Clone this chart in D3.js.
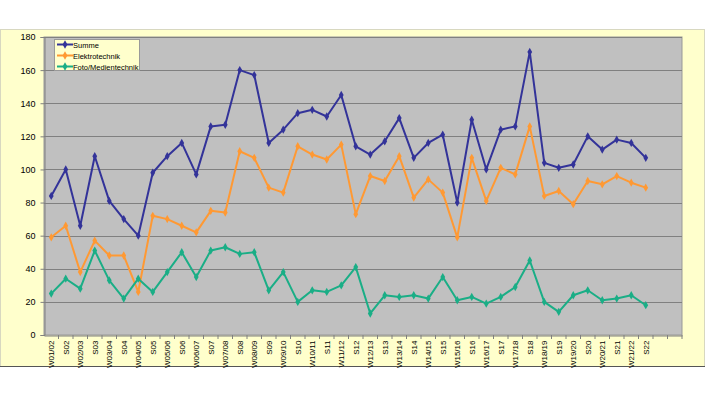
<!DOCTYPE html>
<html><head><meta charset="utf-8">
<script src="https://cdn.jsdelivr.net/npm/d3@7"></script>
<style>body{margin:0;background:#fff;}svg{display:block;font-family:"Liberation Sans",Arial,sans-serif;}</style>
</head><body><svg id="c" width="705" height="397"></svg>
<script>
const categories = ["W01/02","S02","W02/03","S03","W03/04","S04","W04/05","S05","W05/06","S06","W06/07","S07","W07/08","S08","W08/09","S09","W09/10","S10","W10/11","S11","W11/12","S12","W12/13","S13","W13/14","S14","W14/15","S15","W15/16","S16","W16/17","S17","W17/18","S18","W18/19","S19","W19/20","S20","W20/21","S21","W21/22","S22"];
const extraSlots = ["", " "];
const summe = [84,100,66,108,81,70,60,98,108,116,97,126,127,160,157,116,124,134,136,132,145,114,109,117,131,107,116,121,80,130,100,124,126,171,104,101,103,120,112,118,116,107];
const elektro = [59,66,38,57,48,48,26,72,70,66,62,75,74,111,107,89,86,114,109,106,115,73,96,93,108,83,94,86,59,107,81,101,97,126,84,87,79,93,91,96,92,89];
const foto = [25,34,28,51,33,22,34,26,38,50,35,51,53,49,50,27,38,20,27,26,30,41,13,24,23,24,22,35,21,23,19,23,29,45,20,14,24,27,21,22,24,18];
const yTicks = [0,20,40,60,80,100,120,140,160,180];
const seriesNames = ["Summe","Elektrotechnik","Foto/Medientechnik"];
const seriesColors = ["#333399","#FF9933","#1AAE86"];

const svg = d3.select("#c");
svg.append("rect").attr("x",0.5).attr("y",29.5).attr("width",704).attr("height",337)
  .attr("fill","#FFFFCC").attr("stroke","#d8d8c0");
svg.append("line").attr("x1",0).attr("x2",705).attr("y1",366.5).attr("y2",366.5).attr("stroke","#555");

const L=44, R=682, T=37, B=335;
const x = d3.scaleBand().domain(categories.concat(extraSlots)).range([L,R]);
const y = d3.scaleLinear().domain([0,180]).range([B,T]);

svg.append("rect").attr("x",L).attr("y",T).attr("width",R-L).attr("height",B-T).attr("fill","#C0C0C0")
  .attr("stroke","#999").attr("stroke-width",1);

svg.append("g").selectAll("line").data(yTicks.filter(d=>d>0)).join("line")
  .attr("x1",L).attr("x2",R).attr("y1",d=>Math.round(y(d))+0.5).attr("y2",d=>Math.round(y(d))+0.5)
  .attr("stroke","#808080").attr("stroke-width",1);

const ya = svg.append("g").attr("transform",`translate(${L+0.5},0)`)
  .call(d3.axisLeft(y).tickValues(yTicks).tickSize(4).tickPadding(5));
ya.select(".domain").attr("stroke","#808080");
ya.selectAll(".tick line").attr("stroke","#808080");
ya.selectAll("text").attr("font-size","9px").attr("fill","#000").attr("font-family","Liberation Sans, Arial");

const xa = svg.append("g").attr("transform",`translate(0,${B+0.5})`)
  .call(d3.axisBottom(x).tickSize(0).tickFormat(d=>d.trim()));
xa.select(".domain").attr("stroke","#808080");
xa.selectAll(".tick text").attr("font-size","8px").attr("fill","#000").attr("font-family","Liberation Sans, Arial")
  .attr("transform","rotate(-90)").attr("text-anchor","end").attr("dx","-5px").attr("dy","0.35em").attr("y",0).attr("x",0);
svg.append("g").selectAll("line").data(categories.concat(extraSlots).slice(1).concat(["__end"])).join("line")
  .attr("x1",d=>d==="__end"?R:x(d)).attr("x2",d=>d==="__end"?R:x(d))
  .attr("y1",B).attr("y2",B+4).attr("stroke","#808080");

const line = d3.line().x((d,i)=>x(categories[i])+x.bandwidth()/2).y(d=>y(d));
const data = [summe, elektro, foto];
const sym = d3.symbol().type(d3.symbolDiamond).size(20);
data.forEach((vals,k)=>{
  svg.append("path").datum(vals).attr("d",line).attr("fill","none")
    .attr("stroke",seriesColors[k]).attr("stroke-width",2).attr("stroke-linejoin","round");
  svg.append("g").selectAll("path").data(vals).join("path")
    .attr("transform",(d,i)=>`translate(${x(categories[i])+x.bandwidth()/2},${y(d)})`)
    .attr("d",sym).attr("fill",seriesColors[k]);
});

const lg = svg.append("g");
lg.append("rect").attr("x",54.5).attr("y",39.5).attr("width",85).attr("height",31)
  .attr("fill","#FFFFCC").attr("stroke","#999");
seriesNames.forEach((n,k)=>{
  const yy = 44.5 + k*11;
  lg.append("line").attr("x1",57).attr("x2",73).attr("y1",yy).attr("y2",yy)
    .attr("stroke",seriesColors[k]).attr("stroke-width",2);
  lg.append("path").attr("transform",`translate(65,${yy})`).attr("d",sym).attr("fill",seriesColors[k]);
  lg.append("text").attr("x",73).attr("y",yy+3).attr("font-size","7.5px").text(n);
});
</script></body></html>
